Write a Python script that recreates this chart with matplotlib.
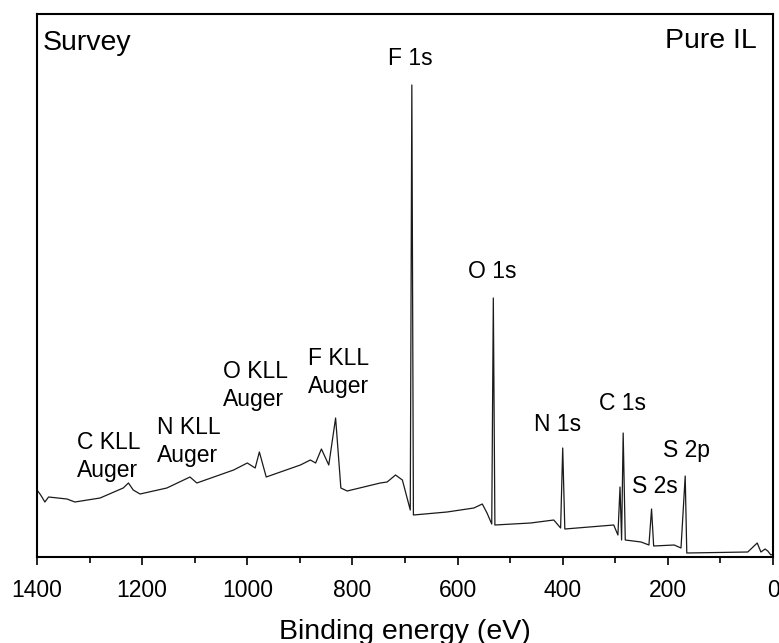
import numpy as np
import matplotlib
matplotlib.use('Agg')
import matplotlib.pyplot as plt
from matplotlib.ticker import MultipleLocator

plt.rcParams['font.family'] = ['Liberation Sans', 'DejaVu Sans']

# spectrum (binding energy in eV, intensity in arb. units)
energy = [1400, 1393, 1385, 1378, 1343, 1328, 1280, 1236, 1226, 1217, 1204,
          1153, 1109, 1096, 1026, 1000, 985, 977, 964, 899, 880, 870, 859,
          845, 832, 822, 810, 747, 734, 718, 705, 690, 687, 684, 620, 569,
          553, 544, 535, 532, 529, 461, 417, 404, 400, 396, 303, 295, 291,
          288, 285, 281, 251, 236, 231, 227, 188, 175, 167, 164, 48, 30, 23,
          15, 10, 4, 0]
intensity = [67, 62, 55, 60, 58, 55, 59, 69, 74, 67, 63,
             69, 80, 74, 87, 94, 89, 105, 80, 92, 97, 94, 108,
             92, 139, 69, 66, 74, 75, 82, 77, 47, 472, 42, 45, 49,
             53, 44, 33, 259, 32, 34, 37, 29, 109, 28, 32, 22, 70,
             17, 124, 17, 15, 12, 48, 11, 12, 9, 81, 4, 5, 14, 5,
             8, 6, 2, 3]

# peak labels: text, energy, intensity (baseline)
core_labels = ['F 1s', 'O 1s', 'N 1s', 'C 1s', 'S 2s', 'S 2p']
core_e = [689.5, 534.5, 409, 287, 224.5, 164.5]
core_i = [492, 279, 126, 147, 64, 100]

# auger labels, intensity is baseline of the "Auger" line
auger_labels = ['C KLL\nAuger', 'N KLL\nAuger', 'O KLL\nAuger', 'F KLL\nAuger']
auger_e = [1324, 1172, 1047, 884]
auger_i = [80, 95, 151, 164]

fig = plt.figure(figsize=(7.79, 6.43), dpi=100)
ax = fig.add_axes([37/779, 86/643, 736/779, 543/643])

ax.plot(energy, intensity, color='#1a1a1a', lw=0.9)

ax.set_xlim(1400, 0)
ax.set_ylim(0, 543)
ax.xaxis.set_major_locator(MultipleLocator(200))
ax.xaxis.set_minor_locator(MultipleLocator(100))
ax.tick_params(axis='x', which='major', direction='out', length=6, width=1.2,
               labelsize=16.5, pad=10, top=False)
ax.tick_params(axis='x', which='minor', direction='out', length=4, width=1.2, top=False)
ax.set_yticks([])
for s in ax.spines.values():
    s.set_linewidth(1.5)

ax.set_xlabel('Binding energy (eV)', fontsize=20.5, labelpad=12)

for t, e, i in zip(core_labels, core_e, core_i):
    ax.text(e, i, t, fontsize=16.5, ha='center', va='baseline')
for t, e, i in zip(auger_labels, auger_e, auger_i):
    ax.text(e, i, t, fontsize=16.5, ha='left', va='baseline', linespacing=1.27)

ax.text(0.008, 0.934, 'Survey', transform=ax.transAxes, fontsize=20.5,
        ha='left', va='baseline')
ax.text(0.978, 0.937, 'Pure IL', transform=ax.transAxes, fontsize=20.5,
        ha='right', va='baseline')

fig.savefig('out.png', dpi=100)
